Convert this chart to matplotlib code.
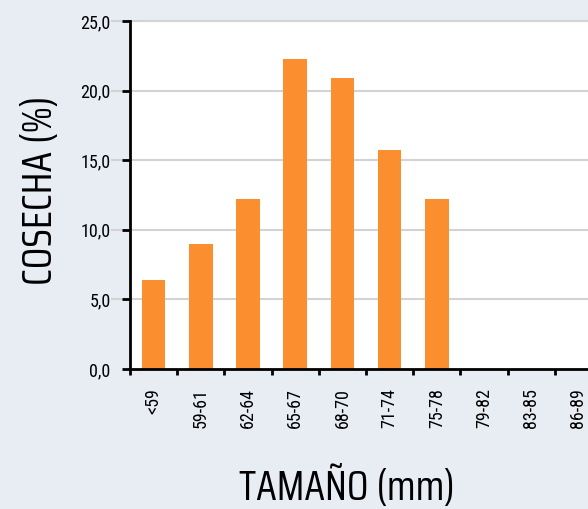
import numpy as np
import matplotlib.pyplot as plt

categorias = ['<59', '59-61', '62-64', '65-67', '68-70', '71-74', '75-78', '79-82', '83-85', '86-89']
cosecha = [6.4, 9.0, 12.2, 22.3, 20.9, 15.7, 12.2, 0, 0, 0]
yticks = [0, 5, 10, 15, 20, 25]
ytick_labels = ['0,0', '5,0', '10,0', '15,0', '20,0', '25,0']

plt.rcParams['font.family'] = ['Saira Condensed', 'DejaVu Sans']

fig = plt.figure(figsize=(5.88, 5.09), dpi=100, facecolor='#e8ecf3')
# the axes runs past the right edge, as in the reference
ax = fig.add_axes([130/588, 1 - 369/509, 472/588, 348/509])
ax.set_facecolor('white')

x = np.arange(len(categorias))
ax.bar(x, cosecha, width=0.5, color='#fb8f2f', zorder=3)

ax.set_xlim(-0.5, len(categorias) - 0.5)
ax.set_ylim(0, 25)
ax.hlines(yticks[1:], -0.04, 1.2, transform=ax.get_yaxis_transform(),
          color='#d3d3d3', lw=1.5, clip_on=False, zorder=1)

for s in ['top', 'right']:
    ax.spines[s].set_visible(False)
for s in ['left', 'bottom']:
    ax.spines[s].set_linewidth(2)
    ax.spines[s].set_zorder(4)

ax.set_yticks(yticks)
ax.set_yticklabels(ytick_labels, fontsize=13, family='Roboto Condensed')
ax.set_xticks(np.arange(len(categorias) + 1) - 0.5)
ax.set_xticklabels([])
ax.set_xticks(x, minor=True)
ax.set_xticklabels(categorias, minor=True, rotation=90, fontsize=13,
                   family='Roboto Condensed')
ax.tick_params(axis='y', length=6, width=2, pad=8)
ax.tick_params(axis='x', which='major', length=4.5, width=2)
ax.tick_params(axis='x', which='minor', length=0, pad=14)

fig.text(40/588, 1 - 190/509, 'COSECHA (%)', rotation=90, fontsize=30,
         ha='center', va='center')
fig.text(347/588, 1 - 487/509, 'TAMAÑO (mm)', fontsize=30,
         ha='center', va='center')

fig.savefig('out.png', dpi=100, facecolor=fig.get_facecolor())
